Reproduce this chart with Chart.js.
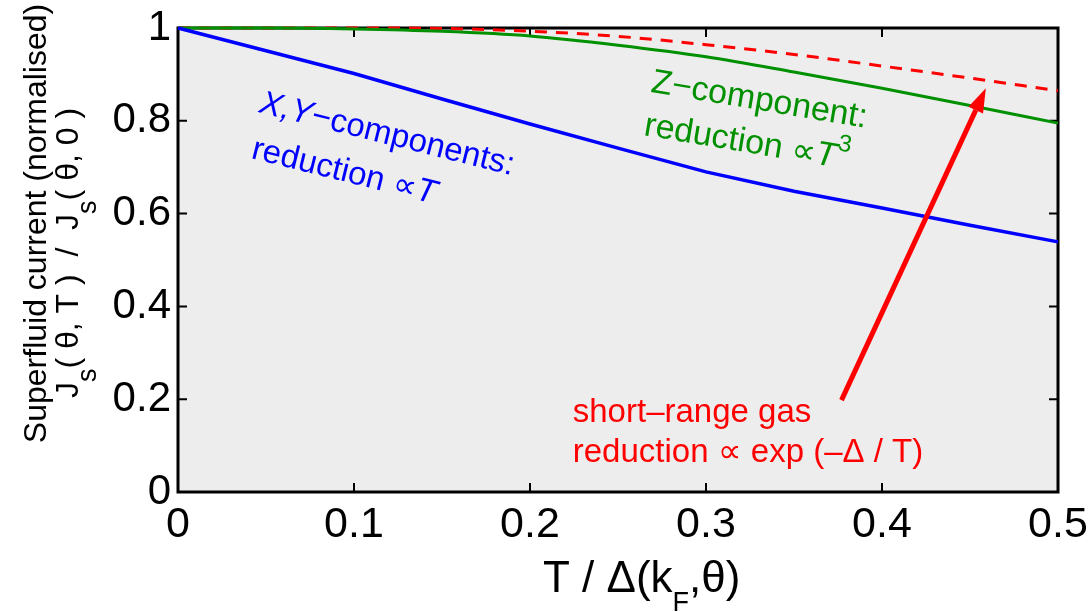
<!DOCTYPE html>
<html><head><meta charset="utf-8">
<script src="https://cdn.jsdelivr.net/npm/chart.js@4.4.0/dist/chart.umd.min.js"></script>
<style>html,body{margin:0;padding:0;background:#fff}</style>
</head><body>
<canvas id="c" width="1088" height="612"></canvas>
<script>
// ---- data ----
const temperatures = [0, 0.05, 0.1, 0.15, 0.2, 0.25, 0.3, 0.35, 0.4, 0.45, 0.5];
const xyComponents = [1, 0.951, 0.902, 0.847, 0.793, 0.741, 0.690, 0.648, 0.612, 0.575, 0.539];
const zComponent   = [1, 1.0, 0.998, 0.993, 0.983, 0.963, 0.938, 0.905, 0.870, 0.833, 0.795];
const shortRangeGas = [1, 1.0, 1.0, 0.999, 0.993, 0.982, 0.964, 0.943, 0.918, 0.892, 0.865];
const xTickValues = [0, 0.1, 0.2, 0.3, 0.4, 0.5];
const yTickValues = [0, 0.2, 0.4, 0.6, 0.8, 1];
const arrowTail = {x: 0.377, y: 0.198};
const arrowTip  = {x: 0.459, y: 0.870};

const FONT = 'Arial, "Liberation Sans", Helvetica, sans-serif';

function pts(ys){ return temperatures.map((t,i)=>({x:t, y:ys[i]})); }

function drawRich(ctx, x, y, angleDeg, segs, size, color, align){
  ctx.save();
  ctx.translate(x, y);
  ctx.rotate(angleDeg*Math.PI/180);
  ctx.fillStyle = color;
  ctx.textBaseline = 'alphabetic';
  ctx.textAlign = 'left';
  const parts = segs.map(s=>{
    const sz = s.size || size;
    const font = (s.italic ? 'italic ' : '') + sz + 'px ' + FONT;
    ctx.font = font;
    return {t:s.t, font, w:ctx.measureText(s.t).width, dy:s.dy||0};
  });
  const total = parts.reduce((a,p)=>a+p.w,0);
  let cx = align==='center' ? -total/2 : 0;
  for(const p of parts){ ctx.font = p.font; ctx.fillText(p.t, cx, p.dy); cx += p.w; }
  ctx.restore();
}

const framePlugin = {
  id:'frame',
  beforeDatasetsDraw(chart){
    const {ctx, chartArea:a, scales:{x, y}} = chart;
    ctx.save();
    ctx.fillStyle = '#ededed';
    ctx.fillRect(a.left, a.top, a.right-a.left, a.bottom-a.top);
    ctx.strokeStyle = '#000';
    ctx.lineWidth = 3;
    ctx.strokeRect(a.left, a.top, a.right-a.left, a.bottom-a.top);
    ctx.lineWidth = 2;
    const tl = 9;
    ctx.beginPath();
    for(const v of xTickValues){
      const px = x.getPixelForValue(v);
      ctx.moveTo(px, a.bottom); ctx.lineTo(px, a.bottom-tl);
      ctx.moveTo(px, a.top); ctx.lineTo(px, a.top+tl);
    }
    for(const v of yTickValues){
      const py = y.getPixelForValue(v);
      ctx.moveTo(a.left, py); ctx.lineTo(a.left+tl, py);
      ctx.moveTo(a.right, py); ctx.lineTo(a.right-tl, py);
    }
    ctx.stroke();
    ctx.restore();
  },
  afterDatasetsDraw(chart){
    const {ctx, scales:{x, y}} = chart;
    // arrow
    const x0 = x.getPixelForValue(arrowTail.x), y0 = y.getPixelForValue(arrowTail.y);
    const x1 = x.getPixelForValue(arrowTip.x),  y1 = y.getPixelForValue(arrowTip.y);
    const ang = Math.atan2(y1-y0, x1-x0);
    const hl = 24, hw = 8;
    const bx = x1 - hl*Math.cos(ang), by = y1 - hl*Math.sin(ang);
    ctx.save();
    ctx.strokeStyle = '#ff0000'; ctx.fillStyle = '#ff0000';
    ctx.lineWidth = 5;
    ctx.beginPath(); ctx.moveTo(x0,y0); ctx.lineTo(bx,by); ctx.stroke();
    ctx.beginPath();
    ctx.moveTo(x1,y1);
    ctx.lineTo(bx + hw*Math.sin(ang), by - hw*Math.cos(ang));
    ctx.lineTo(bx - hw*Math.sin(ang), by + hw*Math.cos(ang));
    ctx.closePath(); ctx.fill();
    ctx.restore();

    const P = (vx, vy) => [x.getPixelForValue(vx), y.getPixelForValue(vy)];
    // blue annotation
    let p = P(0.0455, 0.819);
    drawRich(ctx, p[0], p[1], 14, [{t:'X,Y', italic:true},{t:'\u2212components:'}], 33, '#0000ff', 'left');
    p = P(0.041, 0.72);
    drawRich(ctx, p[0], p[1], 14, [{t:'reduction \u221D'},{t:'T', italic:true}], 33, '#0000ff', 'left');
    // green annotation
    p = P(0.2682, 0.8627);
    drawRich(ctx, p[0], p[1], 9.5, [{t:'Z\u2212component:'}], 34, '#009000', 'left');
    p = P(0.2642, 0.7694);
    drawRich(ctx, p[0], p[1], 9.5, [{t:'reduction \u221D'},{t:'T', italic:true},{t:'3', size:24, dy:-17}], 34, '#009000', 'left');
    // red annotation
    p = P(0.2243, 0.1515);
    drawRich(ctx, p[0], p[1], 0, [{t:'short\u2013range gas'}], 33, '#ff0000', 'left');
    p = P(0.2243, 0.0653);
    drawRich(ctx, p[0], p[1], 0, [{t:'reduction \u221D exp (\u2013\u0394 / T)'}], 33, '#ff0000', 'left');

    // axis titles
    drawRich(ctx, 46, 223.5, -90, [{t:'Superfluid current (normalised)'}], 32, '#000', 'center');
    drawRich(ctx, 78, 253, -90, [
      {t:'J'},{t:'s', size:27, dy:18},{t:'( \u03B8, T )  /  J'},{t:'s', size:27, dy:18},{t:'( \u03B8, 0 )'}
    ], 32, '#000', 'center');
    drawRich(ctx, 543, 592, 0, [{t:'T / \u0394(k'},{t:'F', size:27, dy:19},{t:',\u03B8)'}], 44, '#000', 'left');
  }
};

new Chart(document.getElementById('c'), {
  type:'line',
  data:{
    datasets:[
      {label:'X,Y-components', data:pts(xyComponents), borderColor:'#0000ff', borderWidth:3.5, pointRadius:0, tension:0, clip:false},
      {label:'Z-component', data:pts(zComponent), borderColor:'#009000', borderWidth:3, pointRadius:0, cubicInterpolationMode:'monotone', clip:false},
      {label:'short-range gas', data:pts(shortRangeGas), borderColor:'#ff0000', borderWidth:3, borderDash:[12,9], pointRadius:0, cubicInterpolationMode:'monotone', clip:false}
    ]
  },
  options:{
    responsive:false, devicePixelRatio:1, animation:false,
    layout:{padding:{top:28, right:30, left:0, bottom:0}},
    plugins:{legend:{display:false}, tooltip:{enabled:false}},
    scales:{
      x:{type:'linear', min:0, max:0.5,
        afterBuildTicks(s){ s.ticks = xTickValues.map(v=>({value:v})); },
        afterFit(s){ s.height = 120; s.paddingLeft = 0; s.paddingRight = 0; },
        grid:{display:false, drawTicks:false}, border:{display:false},
        ticks:{color:'#000', padding:7, maxRotation:0, font:{size:43, family:FONT}, callback:v=>String(v)}
      },
      y:{type:'linear', min:0, max:1,
        afterBuildTicks(s){ s.ticks = yTickValues.map(v=>({value:v})); },
        afterFit(s){ s.width = 178; s.paddingTop = 0; s.paddingBottom = 0; },
        grid:{display:false, drawTicks:false}, border:{display:false},
        ticks:{color:'#000', padding:7, font:{size:42, family:FONT}, callback:v=>String(v)}
      }
    }
  },
  plugins:[framePlugin]
});
</script>
</body></html>
